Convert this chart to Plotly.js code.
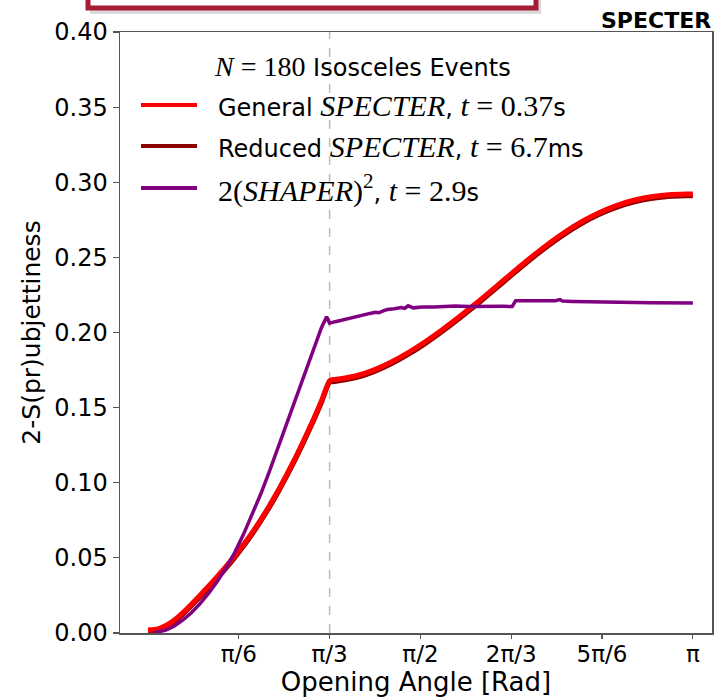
<!DOCTYPE html>
<html>
<head>
<meta charset="utf-8">
<script src="https://cdn.plot.ly/plotly-3.0.1.min.js"></script>
<style>
  html, body { margin: 0; padding: 0; background: #ffffff; }
  #chart { width: 723px; height: 697px; }
</style>
</head>
<body>
<div id="chart"></div>
<script>
// ---- Data ----
const redAngle = [0, 0.05, 0.1, 0.15, 0.2, 0.25, 0.3, 0.35, 0.4, 0.45,
  0.5, 0.55, 0.6, 0.65, 0.7, 0.75, 0.8, 0.85, 0.9, 0.95,
  1.0, 1.0472, 1.1, 1.2, 1.3, 1.4, 1.5, 1.6, 1.7, 1.8,
  1.9, 2.0, 2.1, 2.2, 2.3, 2.4, 2.5, 2.6, 2.7, 2.8,
  2.9, 3.0, 3.1, 3.1416];
const generalSpecter = [0.002, 0.0025, 0.0048, 0.0085, 0.0135, 0.0192, 0.0252, 0.0313, 0.0377, 0.0443,
  0.0513, 0.0588, 0.0668, 0.0755, 0.0848, 0.0948, 0.1055, 0.1168, 0.1288, 0.1413,
  0.1545, 0.168, 0.169, 0.1712, 0.175, 0.1802, 0.1866, 0.194, 0.2022, 0.211,
  0.2202, 0.2299, 0.2397, 0.2493, 0.2583, 0.2665, 0.2737, 0.2797, 0.2845, 0.288,
  0.2904, 0.2917, 0.2922, 0.2922];
const reducedSpecter = [0.0012, 0.0016, 0.0037, 0.0074, 0.0124, 0.0181, 0.0241, 0.0302, 0.0366, 0.0432,
  0.0502, 0.0577, 0.0657, 0.0744, 0.0837, 0.0937, 0.1044, 0.1157, 0.1277, 0.1402,
  0.1534, 0.1668, 0.1678, 0.17, 0.1738, 0.179, 0.1854, 0.1928, 0.201, 0.2098,
  0.219, 0.2287, 0.2385, 0.2481, 0.2571, 0.2653, 0.2725, 0.2785, 0.2833, 0.2868,
  0.2892, 0.2905, 0.291, 0.291];
const shaperAngle = [0.03, 0.1, 0.15, 0.2, 0.25, 0.3, 0.35, 0.4, 0.45, 0.5,
  0.55, 0.6, 0.65, 0.7, 0.75, 0.8, 0.85, 0.9, 0.95, 1.0,
  1.03, 1.0472, 1.08, 1.12, 1.16, 1.19, 1.23, 1.26, 1.28, 1.31,
  1.33, 1.36, 1.38, 1.42, 1.46, 1.48, 1.50, 1.53, 1.58, 1.65,
  1.72, 1.77, 1.85, 1.95, 2.05, 2.10, 2.12, 2.2, 2.3, 2.35,
  2.375, 2.39, 2.45, 2.6, 2.75, 2.9, 3.1416];
const shaperSquared = [0.0, 0.0018, 0.0045, 0.0085, 0.0135, 0.0195, 0.0265, 0.0345, 0.0435, 0.0535,
  0.0655, 0.0785, 0.0925, 0.1075, 0.1235, 0.1395, 0.1555, 0.1715, 0.1875, 0.2032,
  0.2105, 0.2062, 0.2072, 0.2084, 0.2096, 0.2104, 0.2112, 0.2121, 0.2127, 0.2134,
  0.2131, 0.2146, 0.2153, 0.2158, 0.2166, 0.2160, 0.2178, 0.2164, 0.2169, 0.2170,
  0.2175, 0.2177, 0.2173, 0.2176, 0.2174, 0.2173, 0.2212, 0.2212, 0.2214, 0.2212,
  0.2219, 0.2209, 0.2207, 0.2203, 0.2200, 0.2198, 0.2196];

const angleTicks = [Math.PI / 6, Math.PI / 3, Math.PI / 2, 2 * Math.PI / 3, 5 * Math.PI / 6, Math.PI];
const angleTickLabels = ['π/6', 'π/3', 'π/2', '2π/3', '5π/6', 'π'];
const dividerAngle = Math.PI / 3;

const seriesNames = [
  'General SPECTER, t = 0.37s',
  'Reduced SPECTER, t = 6.7ms',
  '2(SHAPER)², t = 2.9s'
];
const M = s => '<span style="font-family:\'Liberation Serif\';font-size:30px">' + s + '</span>';
const seriesLabels = [
  'General ' + M('<i>SPECTER</i>') + ', ' + M('<i>t</i> = 0.37') + 's',
  'Reduced ' + M('<i>SPECTER</i>') + ', ' + M('<i>t</i> = 6.7') + 'ms',
  M('2(<i>SHAPER</i>)<sup>2</sup>') + ', ' + M('<i>t</i> = 2.9') + 's'
];
const seriesColors = ['#ff0000', '#8b0000', '#800080'];
const headerLabel = '<span style="font-family:\'Liberation Serif\';font-size:28px"><i>N</i> = 180</span> Isosceles Events';

// ---- Traces ----
const traces = [
  { x: redAngle, y: reducedSpecter, name: seriesNames[1], mode: 'lines',
    line: { color: seriesColors[1], width: 5, shape: 'spline', smoothing: 0.5 }, showlegend: false },
  { x: redAngle, y: generalSpecter, name: seriesNames[0], mode: 'lines',
    line: { color: seriesColors[0], width: 5, shape: 'spline', smoothing: 0.5 }, showlegend: false },
  { x: shaperAngle, y: shaperSquared, name: seriesNames[2], mode: 'lines',
    line: { color: seriesColors[2], width: 3.5 }, showlegend: false }
];

// pixel helpers for decorations (plot area: x 120..712, y 32..633)
const L = 120, R = 712, T = 32, B = 633;
const px = v => (v - L) / (R - L);
const py = v => (B - v) / (B - T);

const legendRows = [105, 146, 188];
const legendOrder = [0, 1, 2];

const shapes = [
  // header box shadow + box
  { type: 'rect', xref: 'paper', yref: 'paper', x0: px(90), x1: px(541), y0: py(14), y1: py(-30),
    fillcolor: 'rgba(0,0,0,0.15)', line: { width: 0 } },
  { type: 'rect', xref: 'paper', yref: 'paper', x0: px(88), x1: px(536), y0: py(8), y1: py(-30),
    fillcolor: '#ffffff', line: { color: '#a61d38', width: 5 } },
  // divider at pi/3
  { type: 'line', xref: 'x', yref: 'paper', x0: dividerAngle, x1: dividerAngle, y0: 0, y1: 1,
    line: { color: '#bbbbbb', width: 1.5, dash: 'dash' }, layer: 'below' }
];
legendOrder.forEach((k, i) => {
  shapes.push({ type: 'line', xref: 'paper', yref: 'paper', x0: px(141), x1: px(197),
    y0: py(legendRows[i]), y1: py(legendRows[i]), line: { color: seriesColors[k], width: 4 } });
});

const annotations = [
  { text: headerLabel, xref: 'paper', yref: 'paper', x: px(212), y: py(67), xanchor: 'left', yanchor: 'middle',
    showarrow: false, font: { family: 'DejaVu Sans', size: 24, color: '#000' } },
  { text: '<b>SPECTER</b>', xref: 'paper', yref: 'paper', x: px(713), y: py(20), xanchor: 'right', yanchor: 'middle',
    showarrow: false, font: { family: 'DejaVu Sans', size: 22, color: '#000' } }
];
legendOrder.forEach((k, i) => {
  annotations.push({ text: seriesLabels[k], xref: 'paper', yref: 'paper', x: px(216), y: py(legendRows[i]),
    xanchor: 'left', yanchor: 'middle', showarrow: false,
    font: { family: 'DejaVu Sans', size: 24, color: '#000' } });
});

const layout = {
  width: 723, height: 697,
  margin: { l: L, r: 723 - R, t: T, b: 697 - B },
  paper_bgcolor: '#ffffff', plot_bgcolor: '#ffffff',
  showlegend: false,
  font: { family: 'DejaVu Sans', size: 24, color: '#000' },
  xaxis: {
    range: [-0.1615, 3.252],
    tickmode: 'array', tickvals: angleTicks, ticktext: angleTickLabels,
    ticks: 'outside', ticklen: 4, tickcolor: '#555', tickwidth: 1.2,
    ticklabelstandoff: -4,
    showline: true, linecolor: '#555', linewidth: 1.5, mirror: true,
    showgrid: false, zeroline: false,
    tickfont: { family: 'DejaVu Sans', size: 23, color: '#000' },
    title: { text: 'Opening Angle [Rad]', font: { family: 'DejaVu Sans', size: 26, color: '#000' }, standoff: 8 }
  },
  yaxis: {
    range: [0, 0.4], dtick: 0.05, tick0: 0, tickformat: '.2f',
    ticks: 'outside', ticklen: 6, tickcolor: '#555', tickwidth: 1.2,
    showline: true, linecolor: '#555', linewidth: 1.5, mirror: true,
    showgrid: false, zeroline: false,
    tickfont: { family: 'DejaVu Sans', size: 24, color: '#000' },
    title: { text: '2-S(pr)ubjettiness', font: { family: 'DejaVu Sans', size: 25, color: '#000' }, standoff: 6 }
  },
  shapes: shapes,
  annotations: annotations
};

Plotly.newPlot('chart', traces, layout, { displayModeBar: false, staticPlot: true });
</script>
</body>
</html>
